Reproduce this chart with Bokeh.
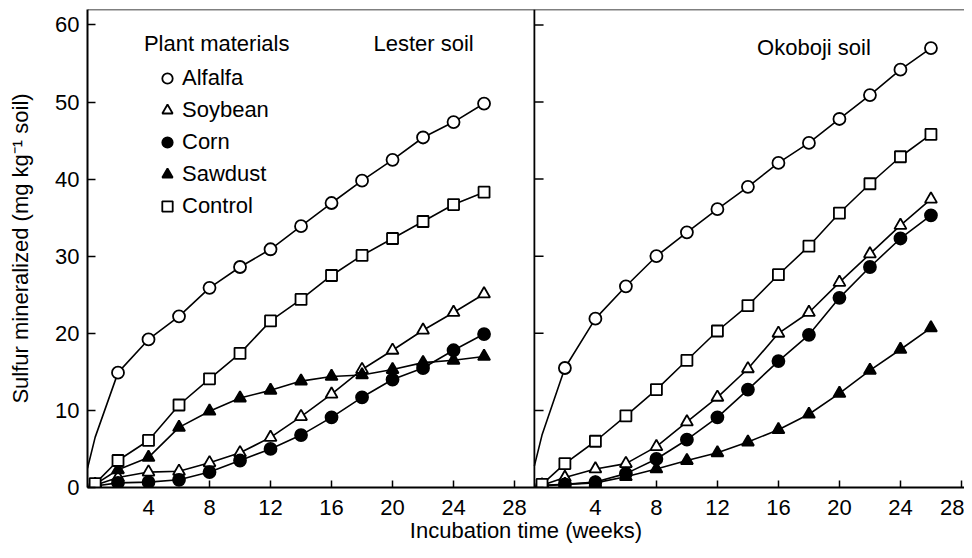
from bokeh.plotting import figure
from bokeh.models import (Range1d, FixedTicker, CustomJSTickFormatter, Span, Label,
                          Legend, LegendItem)
from bokeh.embed import file_html
from bokeh.resources import INLINE

# ---------------- data ----------------
weeks = [0, 0.5, 2, 4, 6, 8, 10, 12, 14, 16, 18, 20, 22, 24, 26]

lester_alfalfa = [2.5, 6.5, 14.9, 19.2, 22.2, 25.9, 28.6, 30.9, 33.9, 36.9, 39.8, 42.5, 45.4, 47.4, 49.8]
lester_soybean = [0, 0.3, 1.3, 2.0, 2.1, 3.2, 4.5, 6.5, 9.2, 12.1, 15.3, 17.8, 20.4, 22.7, 25.1]
lester_corn = [0, 0.2, 0.6, 0.7, 1.0, 2.0, 3.5, 5.0, 6.8, 9.1, 11.7, 14.0, 15.5, 17.8, 19.9]
lester_sawdust = [0, 0.4, 2.3, 3.9, 7.8, 9.9, 11.6, 12.6, 13.8, 14.4, 14.6, 15.3, 16.2, 16.5, 17.0]
lester_control = [0, 0.5, 3.5, 6.1, 10.7, 14.1, 17.4, 21.6, 24.4, 27.5, 30.1, 32.3, 34.5, 36.7, 38.3]

okoboji_alfalfa = [2.8, 6.8, 15.5, 21.9, 26.1, 30.0, 33.1, 36.1, 39.0, 42.1, 44.7, 47.8, 50.9, 54.2, 57.0]
okoboji_soybean = [0, 0.3, 1.3, 2.4, 3.1, 5.3, 8.5, 11.7, 15.4, 20.0, 22.7, 26.6, 30.3, 34.0, 37.4]
okoboji_corn = [0, 0.2, 0.4, 0.7, 1.8, 3.7, 6.2, 9.1, 12.7, 16.4, 19.8, 24.6, 28.6, 32.3, 35.3]
okoboji_sawdust = [0, 0.3, 0.4, 0.6, 1.4, 2.4, 3.5, 4.5, 5.9, 7.5, 9.5, 12.2, 15.2, 17.9, 20.7]
okoboji_control = [0, 0.4, 3.1, 6.0, 9.3, 12.7, 16.5, 20.3, 23.6, 27.6, 31.3, 35.6, 39.4, 42.9, 45.8]

materials = ["Alfalfa", "Soybean", "Corn", "Sawdust", "Control"]
x_ticks = [4, 8, 12, 16, 20, 24, 28]
y_ticks = [0, 10, 20, 30, 40, 50, 60]

lester = dict(zip(materials, [lester_alfalfa, lester_soybean, lester_corn, lester_sawdust, lester_control]))
okoboji = dict(zip(materials, [okoboji_alfalfa, okoboji_soybean, okoboji_corn, okoboji_sawdust, okoboji_control]))

# ---------------- styling ----------------
FONT = "Liberation Sans"
FS = "22px"
X_TOTAL = 57.5
OFFSET = 29.3   # where the second panel starts on the shared axis

styles = {
    "Alfalfa": dict(marker="circle", fill_color="white", size=12),
    "Soybean": dict(marker="triangle", fill_color="white", size=12),
    "Corn": dict(marker="circle", fill_color="black", size=12),
    "Sawdust": dict(marker="triangle", fill_color="black", size=12),
    "Control": dict(marker="square", fill_color="white", size=11),
}
first_marker = {"Alfalfa": 2, "Soybean": 1, "Corn": 1, "Sawdust": 1, "Control": 1}

p = figure(width=964, height=550, x_range=Range1d(0, X_TOTAL), y_range=Range1d(0, 62.0),
           output_backend="svg", toolbar_location=None,
           min_border_left=87, min_border_right=0, min_border_top=9, min_border_bottom=63)
p.extra_x_ranges = {"right": Range1d(-OFFSET, X_TOTAL - OFFSET)}
p.xgrid.visible = False
p.ygrid.visible = False
p.outline_line_color = None
p.background_fill_color = "white"
p.border_fill_color = "white"

legend_renderers = {}
for panel, data, rng in (("L", lester, "default"), ("R", okoboji, "right")):
    for name in materials:
        vals = data[name]
        p.line(weeks, vals, line_color="black", line_width=1.6, x_range_name=rng)
        s = first_marker[name]
        st = styles[name]
        r = p.scatter(weeks[s:], vals[s:], marker=st["marker"], size=st["size"],
                      fill_color=st["fill_color"], line_color="black", line_width=1.8,
                      x_range_name=rng)
        if panel == "L":
            legend_renderers[name] = r

# right panel y-axis ticks (inward)
p.segment(x0=[0] * len(y_ticks), y0=y_ticks, x1=[0.6] * len(y_ticks), y1=y_ticks,
          line_color="black", line_width=1.5, x_range_name="right")

p.add_layout(Span(location=OFFSET, dimension="height", line_color="black", line_width=1.8))
p.add_layout(Span(location=62.0, dimension="width", line_color="black", line_width=1.5))

# axes
xa = p.xaxis[0]
xa.ticker = FixedTicker(ticks=x_ticks + [OFFSET + t for t in x_ticks])
xa.formatter = CustomJSTickFormatter(args=dict(off=OFFSET),
                                     code="return String(Math.round(tick > off ? tick - off : tick));")
xa.axis_label = "Incubation time (weeks)"
ya = p.yaxis[0]
ya.ticker = FixedTicker(ticks=y_ticks)
ya.axis_label = "Sulfur mineralized (mg kg\u207b\u00b9 soil)"

for ax in (xa, ya):
    ax.axis_line_color = "black"
    ax.axis_line_width = 2
    ax.major_tick_line_color = "black"
    ax.major_tick_line_width = 1.5
    ax.major_tick_out = 0
    ax.minor_tick_line_color = None
    ax.major_label_text_font = FONT
    ax.major_label_text_font_size = FS
    ax.major_label_text_color = "black"
    ax.axis_label_text_font = FONT
    ax.axis_label_text_font_size = FS
    ax.axis_label_text_font_style = "normal"
    ax.axis_label_text_color = "black"
xa.major_tick_in = 7
xa.major_label_standoff = 12
xa.axis_label_standoff = 0
ya.major_tick_in = 8
ya.major_label_standoff = 8
ya.axis_label_standoff = 19

# panel texts
for x, y, txt, rng in ((3.7, 57.6, "Plant materials", "default"),
                       (18.75, 57.6, "Lester soil", "default"),
                       (14.6, 57.1, "Okoboji soil", "right")):
    p.add_layout(Label(x=x, y=y, text=txt, text_baseline="middle", text_align="left",
                       text_font=FONT, text_font_size=FS, text_color="black",
                       x_range_name=rng))

legend = Legend(items=[LegendItem(label=n, renderers=[legend_renderers[n]]) for n in materials],
                location=(67, 268), orientation="vertical",
                glyph_width=26, glyph_height=26, label_standoff=2, label_height=26,
                spacing=6, padding=0, margin=0,
                border_line_color=None, background_fill_alpha=0,
                label_text_font=FONT, label_text_font_size=FS, label_text_color="black")
p.add_layout(legend)

open("out.html", "w").write(file_html(p, INLINE))
